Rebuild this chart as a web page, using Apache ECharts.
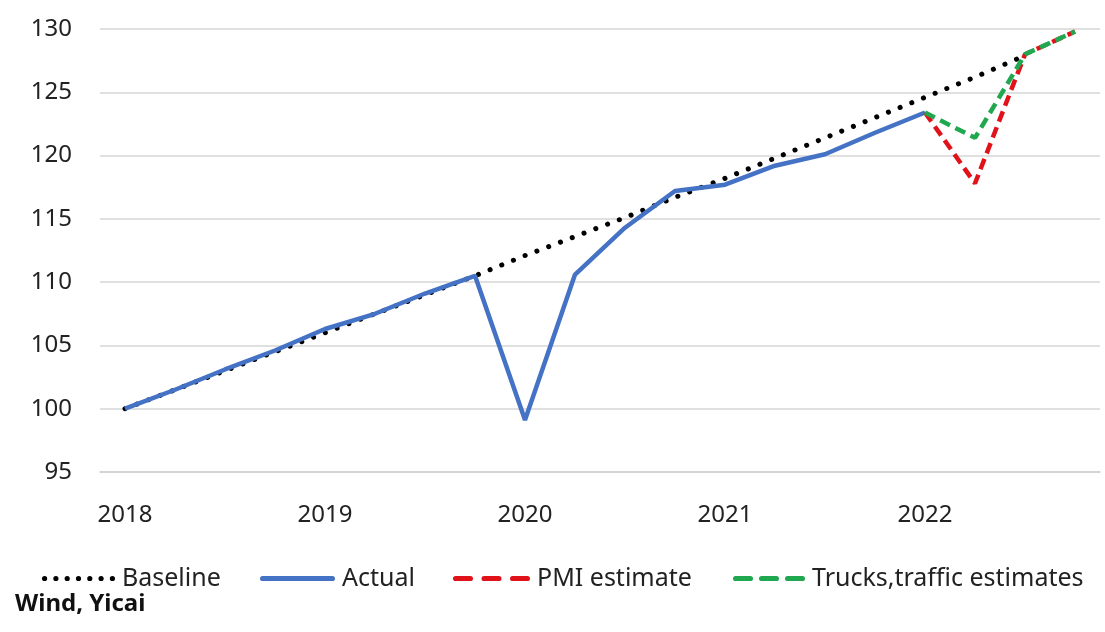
<!DOCTYPE html>
<html>
<head>
<meta charset="utf-8">
<script src="https://cdn.jsdelivr.net/npm/echarts@6/dist/echarts.min.js"></script>
<style>
html,body{margin:0;padding:0;background:#fff;}
#chart{width:1105px;height:632px;}
</style>
</head>
<body>
<div id="chart"></div>
<script>
const categories = ['2018Q1','2018Q2','2018Q3','2018Q4','2019Q1','2019Q2','2019Q3','2019Q4',
  '2020Q1','2020Q2','2020Q3','2020Q4','2021Q1','2021Q2','2021Q3','2021Q4',
  '2022Q1','2022Q2','2022Q3','2022Q4'];
const yearLabels = ['2018','2019','2020','2021','2022'];
const baseline = [100.0,101.5,103.0,104.5,106.0,107.5,109.0,110.5,112.1,113.6,115.1,116.7,118.2,119.8,121.4,123.0,124.6,126.2,127.9,null];
const actual = [100.0,101.5,103.1,104.6,106.3,107.5,109.1,110.5,99.1,110.6,114.3,117.2,117.7,119.2,120.1,121.8,123.4,null,null,null];
const pmiEstimate = [null,null,null,null,null,null,null,null,null,null,null,null,null,null,null,null,123.4,117.8,128.0,129.8];
const trucksEstimate = [null,null,null,null,null,null,null,null,null,null,null,null,null,null,null,null,123.4,121.4,128.0,129.8];
const seriesNames = ['Baseline','Actual','PMI estimate','Trucks,traffic estimates'];
const sourceText = 'Wind, Yicai';

const FONT = '"Noto Sans", "Open Sans", sans-serif';
const COLORS = ['#000000', '#4472C4', '#E0131B', '#1FA84F'];

// legend icon shapes (style only)
function capsule(x0, x1, r) {
  return 'M' + (x0 + r) + ',0 L' + (x1 - r) + ',0 A' + r + ',' + r + ' 0 0 1 ' + (x1 - r) + ',' + (2 * r) +
    ' L' + (x0 + r) + ',' + (2 * r) + ' A' + r + ',' + r + ' 0 0 1 ' + (x0 + r) + ',0 Z ';
}
function dotsPath(n, w, r) {
  let p = '';
  const step = (w - 2 * r) / (n - 1);
  for (let k = 0; k < n; k++) {
    const cx = r + k * step;
    p += 'M' + (cx - r) + ',' + r + ' A' + r + ',' + r + ' 0 1 0 ' + (cx + r) + ',' + r +
      ' A' + r + ',' + r + ' 0 1 0 ' + (cx - r) + ',' + r + ' Z ';
  }
  return 'path://' + p;
}
const legendIcons = [
  dotsPath(7, 73, 2.6),
  'path://' + capsule(0, 75, 2.6),
  'path://' + capsule(0, 20, 2.6) + capsule(28.5, 48.5, 2.6) + capsule(57, 77, 2.6),
  'path://' + capsule(0, 20, 2.6) + capsule(26, 46, 2.6) + capsule(52, 72, 2.6)
];
const legendWidths = [73, 75, 77, 72];
const legendLefts = [42, 260, 453, 733];

const chart = echarts.init(document.getElementById('chart'));
chart.setOption({
  animation: false,
  backgroundColor: '#ffffff',
  grid: {left: 100, right: 5, top: 29, bottom: 160, containLabel: false},
  title: {
    text: sourceText, left: 15, top: 592, padding: 0,
    textStyle: {fontFamily: FONT, fontSize: 24, fontWeight: 'bold', color: '#111'}
  },
  legend: seriesNames.map(function (name, i) {
    return {
      left: legendLefts[i], top: 566, padding: 0,
      itemWidth: legendWidths[i], itemHeight: 5.2,
      selectedMode: false,
      data: [{name: name, icon: legendIcons[i], itemStyle: {color: COLORS[i]}}],
      textStyle: {fontFamily: FONT, fontSize: 25, color: '#222', padding: [0, 0, 0, 2]}
    };
  }),
  xAxis: {
    type: 'category',
    data: categories,
    boundaryGap: true,
    axisLine: {lineStyle: {color: '#d0d0d0', width: 1.5}},
    axisTick: {alignWithLabel: true, interval: 0, length: 6, lineStyle: {color: '#bdbdbd', width: 1.5}},
    axisLabel: {
      interval: 0, margin: 31, fontFamily: FONT, fontSize: 24, color: '#222',
      formatter: function (v) {
        const y = v.slice(0, 4);
        return v.endsWith('Q1') && yearLabels.indexOf(y) >= 0 ? y : '';
      }
    },
    splitLine: {show: false}
  },
  yAxis: {
    type: 'value', min: 95, max: 130, interval: 5,
    axisLine: {show: false}, axisTick: {show: false},
    axisLabel: {margin: 28, fontFamily: FONT, fontSize: 24, color: '#222'},
    splitLine: {lineStyle: {color: '#d6d6d6', width: 1.5}}
  },
  series: [
    {
      name: seriesNames[0], type: 'line', data: baseline, symbol: 'none', z: 2,
      lineStyle: {color: COLORS[0], width: 5, type: [0.1, 12.5], cap: 'round'},
      itemStyle: {color: COLORS[0]}
    },
    {
      name: seriesNames[1], type: 'line', data: actual, symbol: 'none', z: 3,
      lineStyle: {color: COLORS[1], width: 4.5},
      itemStyle: {color: COLORS[1]}
    },
    {
      name: seriesNames[2], type: 'line', data: pmiEstimate, symbol: 'none', z: 4,
      lineStyle: {color: COLORS[2], width: 4.5, type: [11, 6]},
      itemStyle: {color: COLORS[2]}
    },
    {
      name: seriesNames[3], type: 'line', data: trucksEstimate, symbol: 'none', z: 5,
      lineStyle: {color: COLORS[3], width: 4.5, type: [11, 6]},
      itemStyle: {color: COLORS[3]}
    }
  ]
});
</script>
</body>
</html>
